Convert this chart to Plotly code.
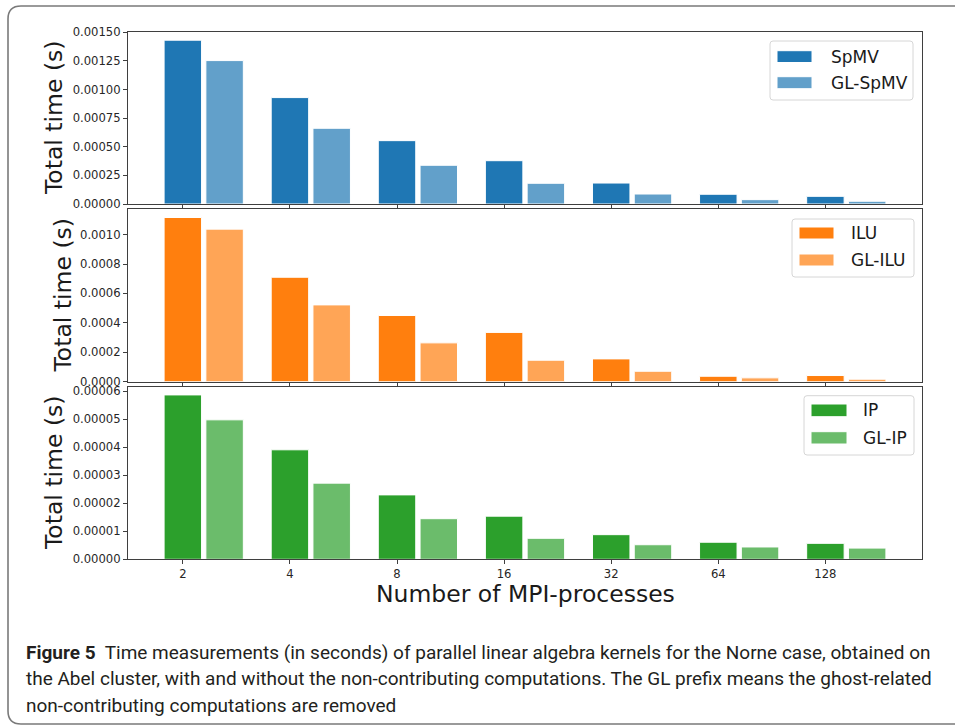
import plotly.graph_objects as go

W, H = 955, 727

# Number of MPI processes (category labels on the shared x axis)
procs = ["2", "4", "8", "16", "32", "64", "128"]

# Total time in seconds per kernel, with and without ghost-related work
spmv = [0.001430, 0.000929, 0.000553, 0.000378, 0.000183, 0.000085, 0.000067]
gl_spmv = [0.001252, 0.000661, 0.000338, 0.000181, 0.000087, 0.000038, 0.000024]
ilu = [0.001116, 0.000710, 0.000450, 0.000335, 0.000155, 0.000037, 0.000042]
gl_ilu = [0.001037, 0.000522, 0.000264, 0.000146, 0.000071, 0.000026, 0.000017]
ip = [5.87e-5, 3.91e-5, 2.30e-5, 1.54e-5, 8.8e-6, 6.1e-6, 5.7e-6]
gl_ip = [4.98e-5, 2.72e-5, 1.45e-5, 7.5e-6, 5.2e-6, 4.4e-6, 4.0e-6]

panels = [
    ("SpMV", "GL-SpMV", spmv, gl_spmv, "#1f77b4", "#62a0ca", ".5f", 0.00025),
    ("ILU", "GL-ILU", ilu, gl_ilu, "#ff7f0e", "#ffa556", ".4f", 0.0002),
    ("IP", "GL-IP", ip, gl_ip, "#2ca02c", "#6bbc6b", ".5f", 0.00001),
]

# panel vertical extents in pixels (top, bottom)
panel_px = [(32, 204), (209.3, 381.7), (386.7, 559.3)]
x_left, x_right = 128, 922

BAR_W = 0.35
GAP = 0.39
pos = list(range(len(procs)))


def px(x):
    return x / W


def py(y):
    return 1 - y / H


fig = go.Figure()
layout = {}
shapes = []
annotations = []

DEJAVU = "DejaVu Sans"
FRAME = "#3f3f3f"

for i, (n1, n2, v1, v2, c1, c2, fmt, dtick) in enumerate(panels):
    k = "" if i == 0 else str(i + 1)
    xa, ya = "x" + k, "y" + k
    for name, vals, col, off in ((n1, v1, c1, -BAR_W / 2), (n2, v2, c2, GAP - BAR_W / 2)):
        fig.add_trace(go.Bar(
            x=pos, y=vals, name=name, width=BAR_W, offset=off,
            marker=dict(color=col, line=dict(color="white", width=1)),
            xaxis=xa, yaxis=ya, showlegend=False,
        ))
    top, bot = panel_px[i]
    ymax = max(max(v1), max(v2)) * 1.05
    lo = -BAR_W / 2
    hi = len(procs) - 1 + GAP + BAR_W / 2
    m = 0.05 * (hi - lo)
    layout["xaxis" + k] = dict(
        domain=[px(x_left), px(x_right)], anchor=ya, range=[lo - m, hi + m],
        tickmode="array", tickvals=pos, ticktext=procs, automargin=False,
        showticklabels=(i == 2), ticks="outside", ticklen=4, tickwidth=1,
        tickcolor=FRAME, showline=True, linecolor=FRAME, linewidth=1.2,
        mirror=True, showgrid=False, zeroline=False,
        tickfont=dict(family=DEJAVU, size=11.6, color="#262626"),
    )
    layout["yaxis" + k] = dict(
        domain=[py(bot), py(top)], anchor=xa, range=[0, ymax], automargin=False,
        tick0=0, dtick=dtick, tickformat=fmt, ticks="outside", ticklen=4,
        tickwidth=1, tickcolor=FRAME, showline=True, linecolor=FRAME,
        linewidth=1.2, mirror=True, showgrid=False, zeroline=False,
        tickfont=dict(family=DEJAVU, size=11.6, color="#262626"),
    )
    annotations.append(dict(
        text="Total time (s)", textangle=-90, xref="paper", yref="paper",
        x=px(54 if i != 1 else 62), y=py((top + bot) / 2),
        xanchor="center", yanchor="middle", showarrow=False,
        font=dict(family=DEJAVU, size=23.5, color="#1a1a1a"),
    ))

# legend boxes: (box x0, y0, x1, y1), swatch x0, x1, entry rows (y0, y1), text x
legend_px = [
    ((770, 41, 913, 100), 777, 812, [(50.7, 62.5), (76.7, 88.7)], 829),
    ((792, 219, 914, 277), 799, 834, [(227, 239), (254, 266)], 849),
    ((804, 395.7, 914, 455), 811, 847, [(404, 416.7), (431.7, 444)], 861),
]


def rounded_rect(x0, y0, x1, y1, r):
    return (f"M {px(x0 + r)},{py(y0)} L {px(x1 - r)},{py(y0)} "
            f"Q {px(x1)},{py(y0)} {px(x1)},{py(y0 + r)} "
            f"L {px(x1)},{py(y1 - r)} Q {px(x1)},{py(y1)} {px(x1 - r)},{py(y1)} "
            f"L {px(x0 + r)},{py(y1)} Q {px(x0)},{py(y1)} {px(x0)},{py(y1 - r)} "
            f"L {px(x0)},{py(y0 + r)} Q {px(x0)},{py(y0)} {px(x0 + r)},{py(y0)} Z")


for (box, sx0, sx1, rows, tx), (n1, n2, _, _, c1, c2, _, _) in zip(legend_px, panels):
    shapes.append(dict(type="path", xref="paper", yref="paper",
                       path=rounded_rect(*box, 3), fillcolor="rgba(255,255,255,0.8)",
                       line=dict(color="#d6d6d6", width=1)))
    for (ry0, ry1), name, col in zip(rows, (n1, n2), (c1, c2)):
        shapes.append(dict(type="rect", xref="paper", yref="paper",
                           x0=px(sx0), x1=px(sx1), y0=py(ry1), y1=py(ry0),
                           fillcolor=col, line=dict(color="white", width=1)))
        annotations.append(dict(
            text=name, xref="paper", yref="paper", x=px(tx), y=py((ry0 + ry1) / 2),
            xanchor="left", yanchor="middle", showarrow=False,
            font=dict(family=DEJAVU, size=17, color="#1a1a1a"),
        ))

# shared x axis title
annotations.append(dict(
    text="Number of MPI-processes", xref="paper", yref="paper",
    x=px((x_left + x_right) / 2), y=py(594), xanchor="center", yanchor="middle",
    showarrow=False, font=dict(family=DEJAVU, size=23.5, color="#1a1a1a"),
))

# figure caption, one annotation per line
caption_lines = [
    "<b>Figure 5</b>  Time measurements (in seconds) of parallel linear algebra "
    "kernels for the Norne case, obtained on",
    "the Abel cluster, with and without the non-contributing computations. "
    "The GL prefix means the ghost-related",
    "non-contributing computations are removed",
]
for line, yc in zip(caption_lines, (652, 678.5, 705)):
    annotations.append(dict(
        text=line, xref="paper", yref="paper", x=px(24), y=py(yc),
        xanchor="left", yanchor="middle", align="left", showarrow=False,
        font=dict(family="Roboto, sans-serif", size=19, color="#231f20"),
    ))

# outer rounded frame around figure and caption (open on the right side)
r = 13
frame = (f"M {px(975)},{py(6)} L {px(8 + r)},{py(6)} Q {px(8)},{py(6)} {px(8)},{py(6 + r)} "
         f"L {px(8)},{py(724 - r)} Q {px(8)},{py(724)} {px(8 + r)},{py(724)} L {px(975)},{py(724)}")
shapes.append(dict(type="path", xref="paper", yref="paper", path=frame,
                   line=dict(color="#7a7a7a", width=1.6)))

fig.update_layout(
    width=W, height=H, margin=dict(l=0, r=0, t=0, b=0, autoexpand=False),
    paper_bgcolor="white", plot_bgcolor="white", barmode="overlay",
    shapes=shapes, annotations=annotations, **layout,
)

fig.write_html("out.html")
